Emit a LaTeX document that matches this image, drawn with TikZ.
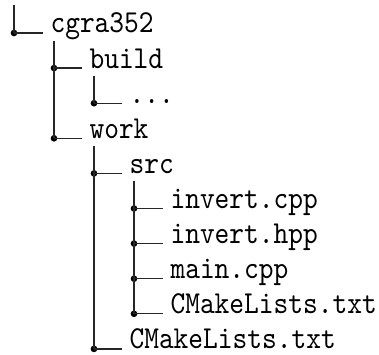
\documentclass[tikz,border=0pt]{standalone}
\newcommand{\tallt}[1]{\scalebox{1}[1.14]{#1}}
\begin{document}
\begin{tikzpicture}[x=0.36pt,y=-0.36pt,
  lbl/.style={anchor=base west, inner sep=0pt, font=\fontsize{10.1}{12}\selectfont\ttfamily},
  dotc/.style={circle, fill=black, inner sep=0pt, minimum size=2.4pt},
  tree/.style={line width=0.45pt, draw=black!85},
  gap/.style={shorten >=2.5pt}]
\useasboundingbox (0,0) rectangle (379,355);
% root
\coordinate (t0) at (14,5);
\node[dotc] (d0) at (14,33) {};
\node[lbl] (root) at (50,33) {\tallt{cgra352}};
% level 1
\coordinate (t1) at (54,41);
\node[dotc] (dbuild) at (54,68.1) {};
\node[lbl] (build) at (89,68.1) {\tallt{build}};
\node[dotc] (dwork) at (54,138.3) {};
\node[lbl] (work) at (89,138.3) {\tallt{work}};
% build children
\coordinate (t2) at (94,76);
\node[dotc] (ddots) at (94,103.2) {};
\node[lbl] (dots) at (129,103.2) {\tallt{...}};
% work children
\coordinate (t3) at (94,146);
\node[dotc] (dsrc) at (94,173.4) {};
\node[lbl] (src) at (129,173.4) {\tallt{src}};
\node[dotc] (dcm) at (94,348.9) {};
\node[lbl] (cm) at (129,348.9) {\tallt{CMakeLists.txt}};
% src children
\coordinate (t4) at (134,181);
\node[dotc] (dic) at (134,208.5) {};
\node[lbl] (ic) at (170,208.5) {\tallt{invert.cpp}};
\node[dotc] (dih) at (134,243.6) {};
\node[lbl] (ih) at (170,243.6) {\tallt{invert.hpp}};
\node[dotc] (dmc) at (134,278.7) {};
\node[lbl] (mc) at (170,278.7) {\tallt{main.cpp}};
\node[dotc] (dsc) at (134,313.8) {};
\node[lbl] (scm) at (170,313.8) {\tallt{CMakeLists.txt}};
% connectors
\draw[tree] (t0) -- (d0.center);
\draw[tree,gap] (d0.center) -- (root.base west);
\draw[tree] (t1) -- (dwork.center);
\draw[tree,gap] (dbuild.center) -- (build.base west);
\draw[tree,gap] (dwork.center) -- (work.base west);
\draw[tree] (t2) -- (ddots.center);
\draw[tree,gap] (ddots.center) -- (dots.base west);
\draw[tree] (t3) -- (dcm.center);
\draw[tree,gap] (dsrc.center) -- (src.base west);
\draw[tree,gap] (dcm.center) -- (cm.base west);
\draw[tree] (t4) -- (dsc.center);
\draw[tree,gap] (dic.center) -- (ic.base west);
\draw[tree,gap] (dih.center) -- (ih.base west);
\draw[tree,gap] (dmc.center) -- (mc.base west);
\draw[tree,gap] (dsc.center) -- (scm.base west);
\end{tikzpicture}
\end{document}
